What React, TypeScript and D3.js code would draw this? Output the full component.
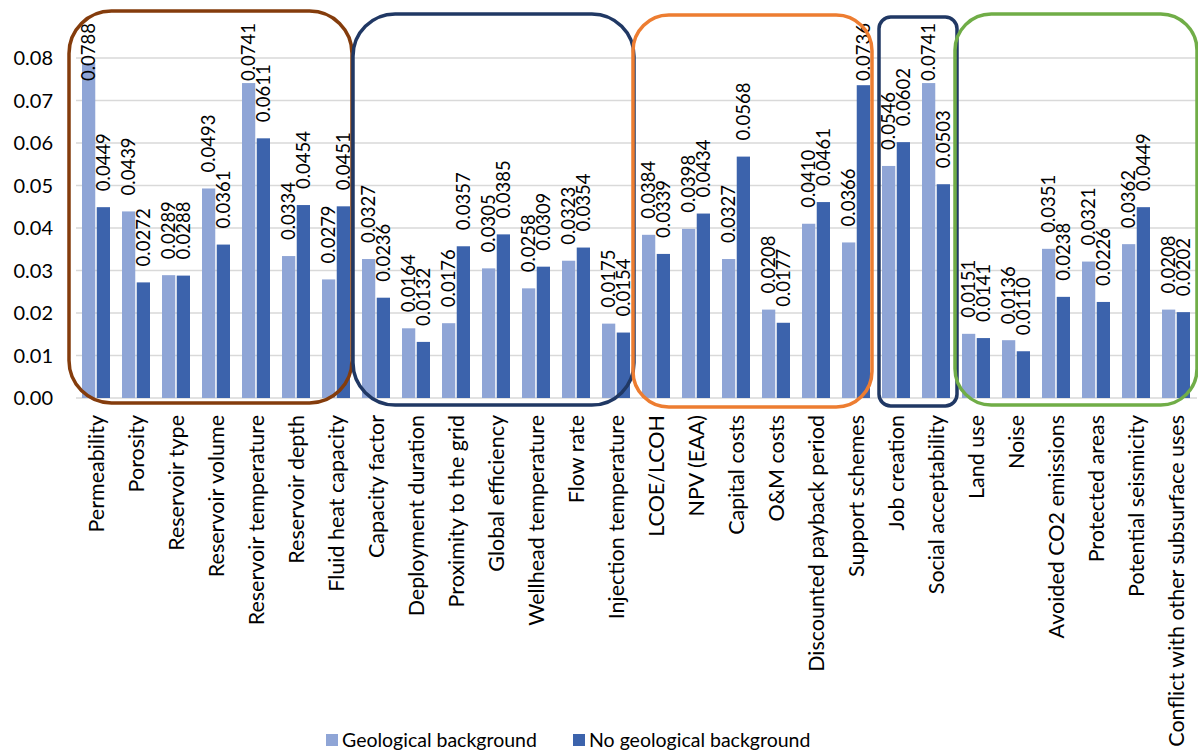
import React from "react";
import * as d3 from "d3";

const categories = [
  "Permeability", "Porosity", "Reservoir type", "Reservoir volume", "Reservoir temperature",
  "Reservoir depth", "Fluid heat capacity", "Capacity factor", "Deployment duration",
  "Proximity to the grid", "Global efficiency", "Wellhead temperature", "Flow rate",
  "Injection temperature", "LCOE/LCOH", "NPV (EAA)", "Capital costs", "O&M costs",
  "Discounted payback period", "Support schemes", "Job creation", "Social acceptability",
  "Land use", "Noise", "Avoided CO2 emissions", "Protected areas", "Potential seismicity",
  "Conflict with other subsurface uses",
];

const geological = [
  0.0788, 0.0439, 0.0289, 0.0493, 0.0741, 0.0334, 0.0279,
  0.0327, 0.0164, 0.0176, 0.0305, 0.0258, 0.0323, 0.0175,
  0.0384, 0.0398, 0.0327, 0.0208, 0.0410, 0.0366,
  0.0546, 0.0741,
  0.0151, 0.0136, 0.0351, 0.0321, 0.0362, 0.0208,
];

const noGeological = [
  0.0449, 0.0272, 0.0288, 0.0361, 0.0611, 0.0454, 0.0451,
  0.0236, 0.0132, 0.0357, 0.0385, 0.0309, 0.0354, 0.0154,
  0.0339, 0.0434, 0.0568, 0.0177, 0.0461, 0.0736,
  0.0602, 0.0503,
  0.0141, 0.0110, 0.0238, 0.0226, 0.0449, 0.0202,
];

const seriesNames = ["Geological background", "No geological background"];
const yTicks = [0, 0.01, 0.02, 0.03, 0.04, 0.05, 0.06, 0.07, 0.08];

// group boxes: first and last category index
const groupFrom = [0, 7, 14, 20, 22];
const groupTo = [6, 13, 19, 21, 27];

// styles / layout
const COLORS = ["#8FA5D6", "#3C63AC"];
const GROUP_COLORS = ["#843C0C", "#203864", "#ED7D31", "#203864", "#70AD47"];
const GROUP_PAD_L = [7, 3, 3, -3, 1];
const GROUP_PAD_R = [-4, -2, -4, 1, 1];
const GROUP_TOP = [11, 14, 15, 17, 14];
const GROUP_BOTTOM = [403, 405, 407, 406, 405];
const FONT = "Lato, 'Open Sans', sans-serif";

const W = 1198;
const H = 756;
const M = { left: 76, right: 1196, top: 58, bottom: 398 };

export default function App() {
  const x0 = d3
    .scaleBand<string>()
    .domain(categories)
    .range([M.left, M.right])
    .paddingInner(0.3)
    .paddingOuter(0.15);
  const x1 = d3
    .scaleBand<number>()
    .domain([0, 1])
    .range([0, x0.bandwidth()])
    .paddingInner(0.1);
  const y = d3.scaleLinear().domain([0, 0.08]).range([M.bottom, M.top]);
  const step = x0.step();
  const cellStart = (i: number) => M.left + i * step;
  const fmt = d3.format(".4f");
  const tickFmt = d3.format(".2f");
  const series = [geological, noGeological];
  const labelClamp = 81;

  return (
    <svg
      width={W}
      height={H}
      style={{ position: "absolute", left: 0, top: 0, background: "#fff" }}
      fontFamily={FONT}
    >
      {/* gridlines */}
      {yTicks.map((t) => (
        <line
          key={"g" + t}
          x1={M.left}
          x2={M.right + 1}
          y1={y(t)}
          y2={y(t)}
          stroke="#D9D9D9"
          strokeWidth={1.5}
        />
      ))}
      {/* y tick labels */}
      {yTicks.map((t) => (
        <text
          key={"t" + t}
          x={53}
          y={y(t)}
          dy="0.36em"
          textAnchor="end"
          fontSize={20}
          fill="#000"
        >
          {tickFmt(t)}
        </text>
      ))}
      {/* bars */}
      {categories.map((c, i) => (
        <g key={c} transform={`translate(${x0(c)},0)`}>
          {series.map((s, k) => (
            <rect
              key={k}
              x={x1(k)}
              y={y(s[i])}
              width={x1.bandwidth()}
              height={y(0) - y(s[i])}
              fill={COLORS[k]}
            />
          ))}
        </g>
      ))}
      {/* value labels */}
      {categories.map((c, i) => (
        <g key={"v" + c}>
          {series.map((s, k) => {
            const cx = (x0(c) as number) + (x1(k) as number) + x1.bandwidth() / 2;
            const sy = Math.max(y(s[i]) - 16, labelClamp);
            return (
              <text
                key={k}
                transform={`translate(${cx},${sy}) rotate(-90)`}
                dy="0.36em"
                textAnchor="start"
                fontSize={18.5}
                fill="#000"
              >
                {fmt(s[i])}
              </text>
            );
          })}
        </g>
      ))}
      {/* category labels */}
      {categories.map((c) => (
        <text
          key={"c" + c}
          transform={`translate(${(x0(c) as number) + x0.bandwidth() / 2},415) rotate(-90)`}
          dy="0.36em"
          textAnchor="end"
          fontSize={21.5}
          fill="#000"
        >
          {c}
        </text>
      ))}
      {/* group boxes */}
      {groupFrom.map((f, g) => {
        const left = cellStart(f) - GROUP_PAD_L[g];
        const right = cellStart(groupTo[g] + 1) + GROUP_PAD_R[g];
        const top = GROUP_TOP[g];
        const bottom = GROUP_BOTTOM[g];
        const r = Math.min(right - left, bottom - top) * 0.15;
        return (
          <rect
            key={"box" + g}
            x={left}
            y={top}
            width={right - left}
            height={bottom - top}
            rx={r}
            ry={r}
            fill="none"
            stroke={GROUP_COLORS[g]}
            strokeWidth={3.5}
          />
        );
      })}
      {/* legend */}
      {seriesNames.map((n, k) => {
        const lx = k === 0 ? 326 : 573;
        return (
          <g key={"l" + k}>
            <rect x={lx} y={734} width={12} height={12} fill={COLORS[k]} />
            <text x={lx + 16} y={740} dy="0.36em" fontSize={19.5} fill="#000">
              {n}
            </text>
          </g>
        );
      })}
    </svg>
  );
}
